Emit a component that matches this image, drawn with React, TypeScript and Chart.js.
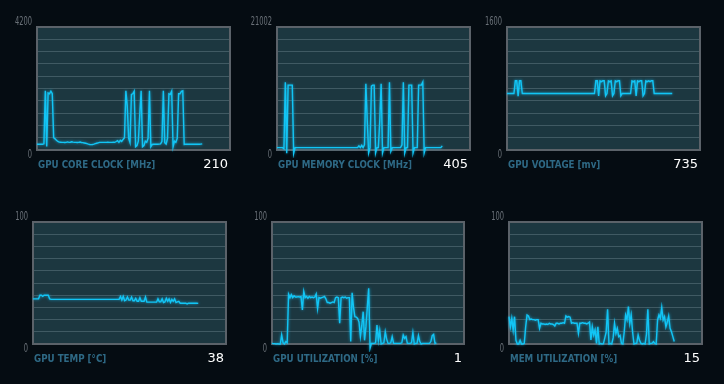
import React, { useEffect, useRef } from 'react';
import { Chart, registerables } from 'chart.js';

Chart.register(...registerables);

// ---------- data ----------
const SAMPLE_SLOTS = 140;
const sampleLabels: string[] = Array.from({ length: SAMPLE_SLOTS }, (_, i) => String(i));

const panelTitles = [
  'GPU CORE CLOCK [MHz]',
  'GPU MEMORY CLOCK [MHz]',
  'GPU VOLTAGE [mv]',
  'GPU TEMP [°C]',
  'GPU UTILIZATION [%]',
  'MEM UTILIZATION [%]',
];
const axisMax = [4200, 21002, 1600, 100, 100, 100];
const axisMaxLabels = ['4200', '21002', '1600', '100', '100', '100'];
const currentValues = ['210', '405', '735', '38', '1', '15'];

const coreClock = [
  195, 195, 195, 195, 195, 210, 2020, 120, 1950, 1920,
  2010, 1920, 420, 380, 330, 290, 270, 265, 260, 262,
  258, 260, 275, 260, 265, 280, 270, 262, 260, 258,
  262, 270, 255, 250, 240, 230, 215, 200, 190, 185,
  188, 200, 215, 230, 245, 260, 262, 262, 262, 260,
  262, 265, 262, 260, 262, 265, 262, 290, 320, 260,
  330, 290, 360, 420, 2020, 1500, 400, 250, 1900, 1920,
  2010, 110, 150, 300, 1200, 2020, 110, 150, 300, 260,
  400, 2020, 110, 190, 195, 195, 195, 195, 200, 210,
  300, 2020, 250, 200, 400, 1920, 1900, 2010, 110, 300,
  260, 400, 1920, 1920, 2000, 2020, 190, 195, 195, 195,
  195, 195, 195, 195, 195, 195, 195, 195, 200, 210,
];

const memoryClock = [
  405, 405, 405, 405, 405, 200, 11585, -570, 11070, 11070,
  11070, 11070, -570, 405, 405, 405, 405, 405, 405, 405,
  405, 405, 405, 405, 405, 405, 405, 405, 405, 405,
  405, 405, 405, 405, 405, 405, 405, 405, 405, 405,
  405, 405, 405, 405, 405, 405, 405, 405, 405, 405,
  405, 405, 405, 405, 405, 405, 405, 405, 405, 700,
  405, 800, 405, 900, 11300, 5000, -500, 405, 10900, 11070,
  11070, -500, 405, 405, 5000, 11300, -500, 405, 405, 405,
  405, 11585, -200, 405, 405, 405, 405, 405, 405, 405,
  900, 11585, -500, 405, 405, 11070, 11070, 11070, -500, 405,
  405, 405, 11070, 11070, 11070, 11585, -500, 405, 405, 405,
  405, 405, 405, 405, 405, 405, 405, 405, 405, 700,
];

const gpuVoltage = [
  735, 735, 735, 735, 735, 735, 900, 900, 700, 900,
  900, 735, 735, 735, 735, 735, 735, 735, 735, 735,
  735, 735, 735, 735, 735, 735, 735, 735, 735, 735,
  735, 735, 735, 735, 735, 735, 735, 735, 735, 735,
  735, 735, 735, 735, 735, 735, 735, 735, 735, 735,
  735, 735, 735, 735, 735, 735, 735, 735, 735, 735,
  735, 735, 735, 735, 900, 900, 704, 900, 890, 900,
  900, 704, 735, 900, 890, 900, 704, 735, 900, 890,
  900, 900, 704, 735, 735, 735, 735, 735, 735, 735,
  900, 890, 900, 704, 900, 890, 900, 900, 704, 735,
  900, 890, 900, 890, 900, 900, 735, 735, 735, 735,
  735, 735, 735, 735, 735, 735, 735, 735, 735, 735,
];

const gpuTemp = [
  37, 37, 37, 37, 37, 40, 40, 39, 40, 40,
  40, 40, 37, 36.6, 36.6, 36.6, 36.6, 36.6, 36.6, 36.6,
  36.6, 36.6, 36.6, 36.6, 36.6, 36.6, 36.6, 36.6, 36.6, 36.6,
  36.6, 36.6, 36.6, 36.6, 36.6, 36.6, 36.6, 36.6, 36.6, 36.6,
  36.6, 36.6, 36.6, 36.6, 36.6, 36.6, 36.6, 36.6, 36.6, 36.6,
  36.6, 36.6, 36.6, 36.6, 36.6, 36.6, 36.6, 36.6, 36.6, 36.6,
  36.6, 36.6, 36.6, 39, 36, 39, 35.5, 36, 38.5, 36,
  36, 38.5, 35.5, 35.5, 37.5, 35, 35, 38, 35, 35,
  35, 38.5, 34.3, 34.3, 34.3, 34.3, 34.3, 34.3, 34.3, 34.3,
  37, 34.5, 34.5, 37, 34, 34.5, 37.5, 35, 37, 34,
  36.5, 35, 37, 34, 34.5, 35, 33.4, 33.4, 33.4, 33.4,
  33.4, 32.8, 33.4, 33.4, 33.4, 33.4, 33.4, 33.4, 33.4, 33.3,
];

const gpuUtilization = [
  0.5, 0.3, 0.3, 0, 0.3, 0, 0, 7.5, 1, 0,
  2, 1, 40.7, 38, 40.5, 38, 39.5, 38.5, 38.5, 38.8,
  38.5, 38.8, 27.9, 43, 38, 39, 37.5, 39, 38, 38.5,
  38, 38.5, 41, 29, 38, 37.5, 38, 38.5, 39, 37,
  34, 34, 33.5, 34, 34.5, 34, 38, 38.5, 38, 17,
  38, 38.5, 38, 38.5, 37.5, 38, 38, 2, 42, 30,
  22.4, 22, 21, 18, 6, 15, 26.5, 3, 14, 30,
  45.6, -3.5, 0.5, 0.5, 0.5, 1, 15.6, 3, 11, 0,
  0.5, 1, 10, 4, 0.5, 0.5, 1, 6, 0.5, 0.5,
  0.5, 0.5, 0.5, 0.5, 1, 7.4, 4.6, 6, 0.5, 0.5,
  0.5, 1, 9.3, 0, 0.5, 0.5, 6.9, 2, 0, 0.5,
  0.5, 0.5, 0.5, 0.5, 0.5, 2, 6.9, 7.9, 0.5, 1,
];

const memUtilization = [
  22.4, 14, 21, 11.5, 22.4, 3, 0, 0, 3, 0,
  0, 0.5, 14, 23.8, 23, 20, 20.5, 20, 20, 19.5,
  20, 20, 12.8, 17, 16.4, 16.5, 16, 16.4, 16, 17,
  16.4, 16.4, 16, 14.8, 17, 17, 16.5, 17, 17, 17.5,
  17, 23, 22, 22.5, 22, 17, 17.5, 17, 17, 17,
  8.7, 17, 17, 17.5, 17, 17, 16.5, 17, 18, 3.3,
  14, 7.4, 11.5, 0.5, 14, 0, 0.5, 0, 0.3, 5,
  10, 28.4, 0, 0.5, 0, 5, 17, 8.7, 12.8, 6,
  7, 0.5, 0, 10, 23.8, 20, 30.6, 17, 23.8, 10,
  0, 0.5, 0.5, 7.4, 3, 0.5, 0, 0.5, 0, 8,
  28.4, 0, 0.5, 0.5, 2, 0.5, 0, 19.7, 23.8, 21,
  30, 19.7, 22.4, 14, 18, 23, 12.8, 10, 6, 2,
];

const seriesList = [coreClock, memoryClock, gpuVoltage, gpuTemp, gpuUtilization, memUtilization];

// ---------- layout & style ----------
const PLOT_FRAMES = [
  { x: 37, y: 27, w: 193, h: 123 },
  { x: 277, y: 27, w: 193, h: 123 },
  { x: 507, y: 27, w: 193, h: 123 },
  { x: 33, y: 222, w: 193, h: 122 },
  { x: 272, y: 222, w: 192, h: 122 },
  { x: 509, y: 222, w: 193, h: 122 },
];
const PAD_L = 40;
const PAD_T = 24;
const PAD_R = 10;
const PAD_B = 36;

const PAGE_BG = '#050c12';
const PLOT_BG = '#1c3740';
const GRID_COLOR = '#405a63';
const FRAME_COLOR = '#5b6269';
const LINE_COLOR = '#12c5f5';
const TITLE_COLOR = '#2e6985';
const TICK_COLOR = '#6a7178';

function narrowText(ctx: CanvasRenderingContext2D, text: string, x: number, y: number, sx: number) {
  ctx.save();
  ctx.translate(x, y);
  ctx.scale(sx, 1);
  ctx.fillText(text, 0, 0);
  ctx.restore();
}

const panelDecor = {
  id: 'panelDecor',
  beforeDraw(chart: any) {
    const { ctx, chartArea } = chart;
    ctx.save();
    ctx.fillStyle = PLOT_BG;
    ctx.fillRect(chartArea.left, chartArea.top, chartArea.right - chartArea.left, chartArea.bottom - chartArea.top);
    ctx.restore();
  },
  beforeDatasetsDraw(chart: any) {
    const { ctx, chartArea } = chart;
    ctx.save();
    ctx.strokeStyle = FRAME_COLOR;
    ctx.lineWidth = 2;
    ctx.strokeRect(chartArea.left, chartArea.top, chartArea.right - chartArea.left, chartArea.bottom - chartArea.top);
    ctx.restore();
  },
  beforeDatasetDraw(chart: any) {
    const ctx = chart.ctx;
    ctx.save();
    ctx.shadowColor = 'rgba(20, 200, 255, 0.75)';
    ctx.shadowBlur = 3;
  },
  afterDatasetDraw(chart: any) {
    chart.ctx.restore();
  },
  afterDraw(chart: any, _args: any, opts: any) {
    const { ctx, chartArea } = chart;
    const { left, right, top, bottom } = chartArea;
    ctx.save();
    ctx.textBaseline = 'middle';
    ctx.font = '12px "DejaVu Sans Condensed", "DejaVu Sans", sans-serif';
    ctx.fillStyle = TICK_COLOR;
    ctx.textAlign = 'right';
    narrowText(ctx, opts.maxLabel, left - 5, top - 5.5, 0.62);
    narrowText(ctx, '0', left - 5, bottom + 5, 0.62);
    ctx.textAlign = 'left';
    ctx.font = 'bold 11px "DejaVu Sans Condensed", "DejaVu Sans", sans-serif';
    ctx.fillStyle = TITLE_COLOR;
    narrowText(ctx, opts.title, left + 1, bottom + 15, 0.88);
    ctx.textAlign = 'right';
    ctx.font = '13px "DejaVu Sans", sans-serif';
    ctx.fillStyle = '#ffffff';
    ctx.fillText(opts.value, right - 2, bottom + 15);
    ctx.restore();
  },
};

function Panel({ index }: { index: number }) {
  const ref = useRef<HTMLCanvasElement | null>(null);
  const frame = PLOT_FRAMES[index];
  const cw = PAD_L + frame.w + PAD_R;
  const ch = PAD_T + frame.h + PAD_B;

  useEffect(() => {
    if (!ref.current) return;
    const chart = new Chart(ref.current, {
      type: 'line',
      data: {
        labels: sampleLabels,
        datasets: [
          {
            data: seriesList[index],
            borderColor: LINE_COLOR,
            borderWidth: 1.4,
            pointRadius: 0,
            tension: 0,
            fill: false,
            clip: 8,
          } as any,
        ],
      },
      options: {
        animation: false,
        responsive: false,
        events: [],
        layout: { padding: { left: PAD_L, top: PAD_T, right: PAD_R, bottom: PAD_B } },
        plugins: {
          legend: { display: false },
          tooltip: { enabled: false },
          panelDecor: {
            title: panelTitles[index],
            maxLabel: axisMaxLabels[index],
            value: currentValues[index],
          },
        } as any,
        scales: {
          x: { display: false },
          y: {
            display: true,
            min: 0,
            max: axisMax[index],
            ticks: { display: false, count: 11 },
            grid: { color: GRID_COLOR, drawTicks: false, lineWidth: 1 },
            border: { display: false },
          },
        },
      },
      plugins: [panelDecor as any],
    });
    return () => chart.destroy();
  }, [index]);

  return (
    <canvas
      ref={ref}
      width={cw}
      height={ch}
      style={{ position: 'absolute', left: frame.x - PAD_L, top: frame.y - PAD_T, width: cw, height: ch }}
    />
  );
}

export default function App() {
  return (
    <div
      style={{
        position: 'absolute',
        left: 0,
        top: 0,
        width: 724,
        height: 384,
        background: PAGE_BG,
        overflow: 'hidden',
      }}
    >
      {PLOT_FRAMES.map((_, i) => (
        <Panel key={i} index={i} />
      ))}
    </div>
  );
}
